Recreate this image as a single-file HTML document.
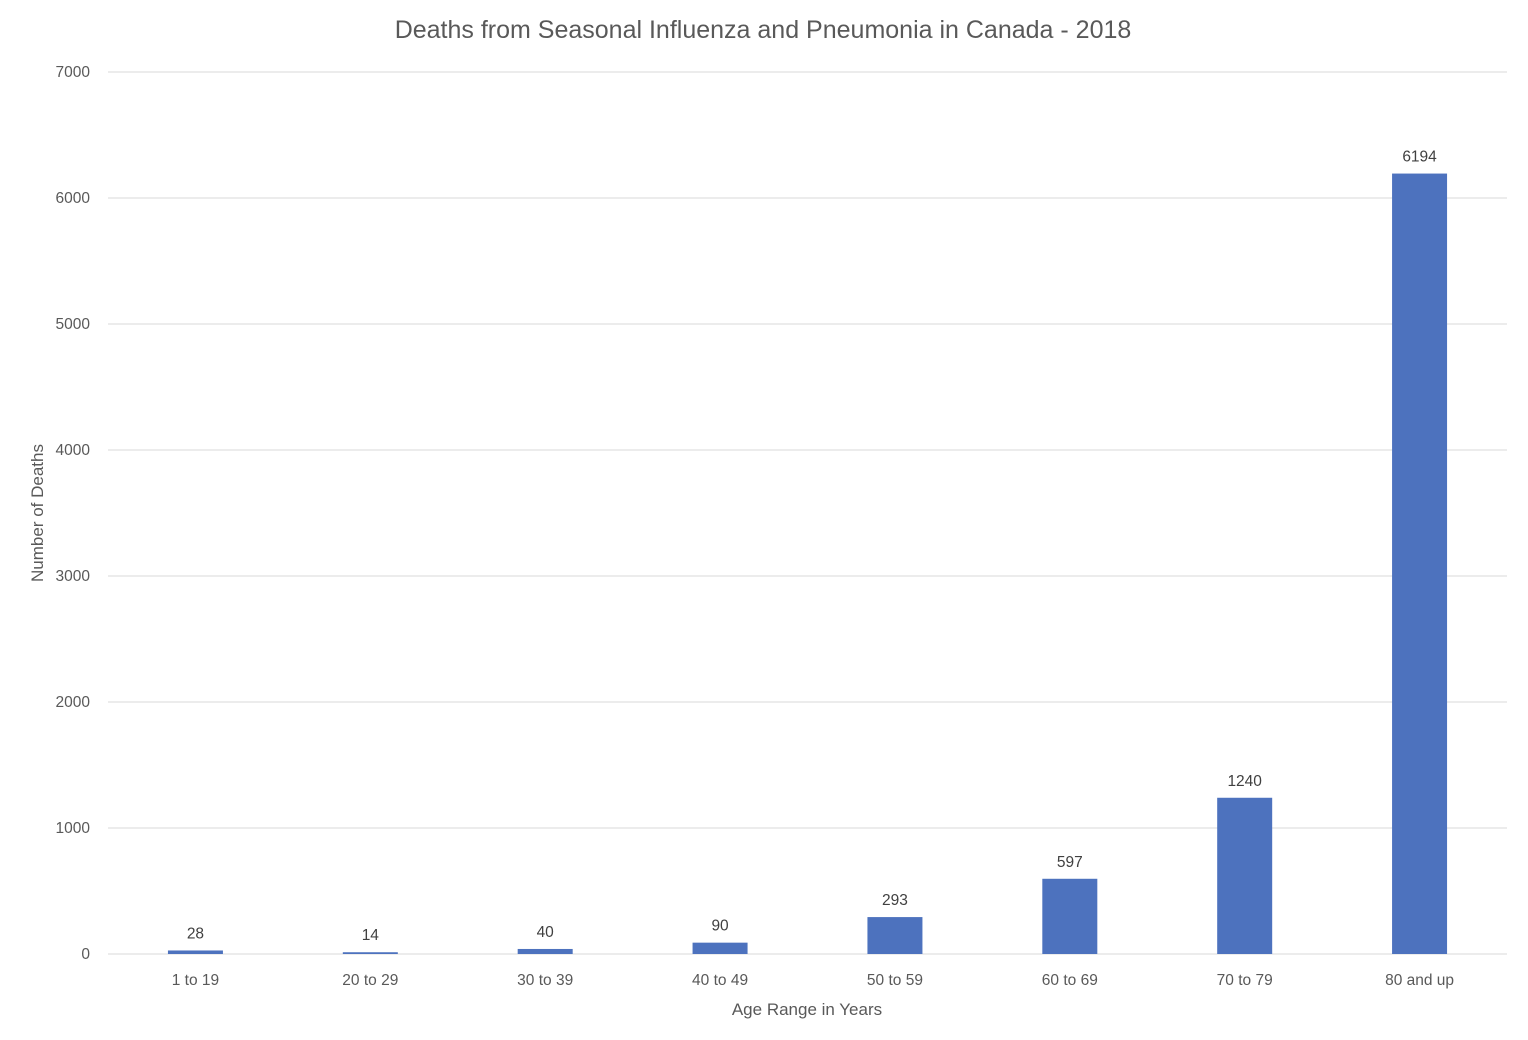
<!DOCTYPE html>
<html><head><meta charset="utf-8"><style>
html,body{margin:0;padding:0;background:#fff;}
svg{display:block;font-family:"Liberation Sans",sans-serif;}
</style></head><body>
<svg id="chart" width="1528" height="1040">
<text x="763" y="38" text-anchor="middle" font-size="25" fill="#595959">Deaths from Seasonal Influenza and Pneumonia in Canada - 2018</text>
<text transform="translate(43,513) rotate(-90)" text-anchor="middle" font-size="17" fill="#595959">Number of Deaths</text>
<text x="807" y="1015" text-anchor="middle" font-size="17" fill="#595959">Age Range in Years</text>
<g id="grid"></g><g id="bars"></g>
</svg>
<script>
const categories=["1 to 19","20 to 29","30 to 39","40 to 49","50 to 59","60 to 69","70 to 79","80 and up"];
const values=[28,14,40,90,293,597,1240,6194];
const yTicks=[0,1000,2000,3000,4000,5000,6000,7000];
const NS="http://www.w3.org/2000/svg";
const x0=108,x1=1507,yBase=954,yTop=72,yMax=7000;
const y=v=>yBase-(v/yMax)*(yBase-yTop);
const band=(x1-x0)/categories.length;
const xc=i=>x0+band*(i+0.5);
const bw=55;
function mk(t,a,p){const e=document.createElementNS(NS,t);for(const k in a)e.setAttribute(k,a[k]);p.appendChild(e);return e;}
const grid=document.getElementById('grid'),bars=document.getElementById('bars');
yTicks.forEach(t=>{
  const l=mk('line',{x1:x0,x2:x1,y1:y(t),y2:y(t),stroke:'#d9d9d9','stroke-width':1},grid);
  
  
  const tx=mk('text',{x:90,y:y(t)+5,'text-anchor':'end','font-size':15.5,fill:'#595959'},grid);
  tx.textContent=t;
  
  
});
categories.forEach((c,i)=>{
  const r=mk('rect',{x:xc(i)-bw/2,y:y(values[i]),width:bw,height:yBase-y(values[i]),fill:'#4d72be'},bars);
  
  
  const v=mk('text',{x:xc(i),y:y(values[i])-12,'text-anchor':'middle','font-size':15.5,fill:'#404040'},bars);
  v.textContent=values[i];
  
  
  const cl=mk('text',{x:xc(i),y:985,'text-anchor':'middle','font-size':15.5,fill:'#595959'},bars);
  cl.textContent=c;
  
  
});
</script>
</body></html>
